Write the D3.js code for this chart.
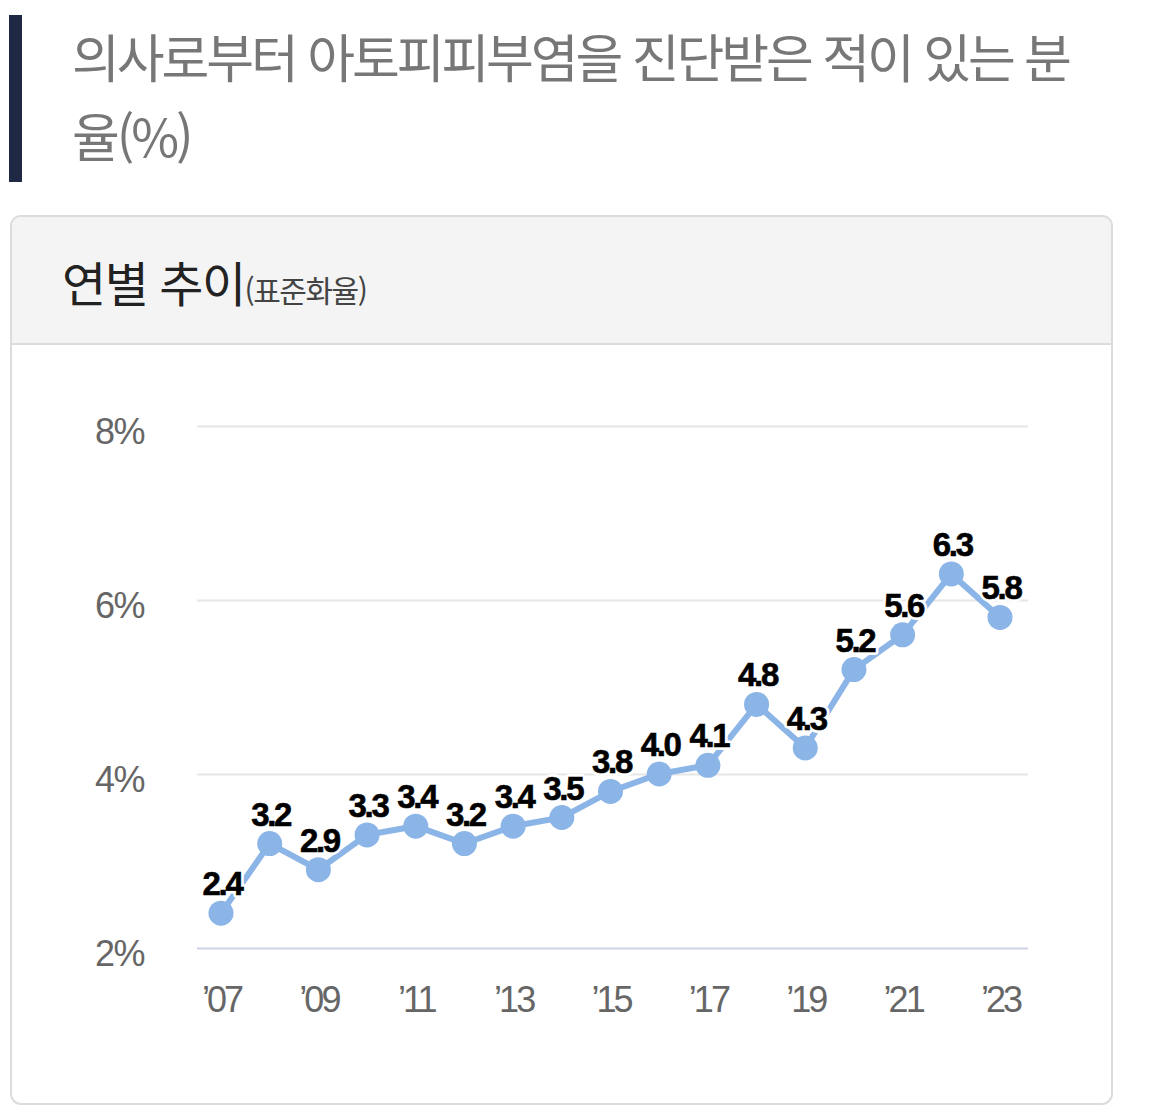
<!DOCTYPE html>
<html lang="ko">
<head>
<meta charset="utf-8">
<script src="https://cdn.jsdelivr.net/npm/d3@7"></script>
<style>
  body { margin: 0; background: #fff; }
  svg { display: block; }
  .title { font-family: "Noto Sans CJK KR", sans-serif; fill: #777; font-size: 52px; letter-spacing: -3.1px; }
  .sub { font-family: "Noto Sans CJK KR", sans-serif; fill: #222; }
  .tick text { font-family: "Liberation Sans", Arial, sans-serif; fill: #666; font-size: 36px; letter-spacing: -3px; }
  .y-axis .tick text { letter-spacing: -1.5px; }
  .label { font-family: "Liberation Sans", Arial, sans-serif; font-weight: bold; font-size: 33px; letter-spacing: -2.3px; }
  .label.halo { fill: #fff; stroke: #fff; stroke-width: 6px; stroke-linejoin: round; }
  .label.ink { fill: #000; stroke: #000; stroke-width: 0.6px; }
</style>
</head>
<body>
<div id="chart"></div>
<script>
// 연도 (2007 ~ 2023)
const years = ['07', '08', '09', '10', '11', '12', '13', '14', '15', '16', '17', '18', '19', '20', '21', '22', '23'];
// 아토피피부염 진단 경험률 (표준화율, %)
const rates = [2.4, 3.2, 2.9, 3.3, 3.4, 3.2, 3.4, 3.5, 3.8, 4.0, 4.1, 4.8, 4.3, 5.2, 5.6, 6.3, 5.8];
const yTicks = [2, 4, 6, 8];
const xTicks = ['07', '09', '11', '13', '15', '17', '19', '21', '23'];

const width = 1165;
const height = 1118;

const svg = d3.select('#chart').append('svg')
  .attr('width', width)
  .attr('height', height);

// title block
svg.append('rect')
  .attr('x', 9).attr('y', 15).attr('width', 13).attr('height', 167)
  .attr('fill', '#1f2943');

svg.append('text').attr('class', 'title').attr('x', 72).attr('y', 78)
  .text('의사로부터 아토피피부염을 진단받은 적이 있는 분');
svg.append('text').attr('class', 'title').attr('x', 72).attr('y', 157)
  .text('율(%)');

// card
svg.append('rect')
  .attr('x', 11).attr('y', 216).attr('width', 1101).attr('height', 888)
  .attr('rx', 10)
  .attr('fill', '#fff')
  .attr('stroke', '#dcdcdc')
  .attr('stroke-width', 2);

// header background (rounded top only)
svg.append('path')
  .attr('d', 'M12,343 V227 Q12,217 22,217 H1101 Q1111,217 1111,227 V343 Z')
  .attr('fill', '#f4f4f4');
svg.append('line')
  .attr('x1', 12).attr('x2', 1111).attr('y1', 344).attr('y2', 344)
  .attr('stroke', '#dcdcdc').attr('stroke-width', 2);

const head = svg.append('text').attr('class', 'sub').attr('x', 62).attr('y', 302);
head.append('tspan').attr('font-size', 48).attr('letter-spacing', -1.5).text('연별 추이');
head.append('tspan').attr('font-size', 30).attr('letter-spacing', -1.5).attr('fill', '#444').text('(표준화율)');

// scales
const x = d3.scalePoint().domain(years).range([221, 1000]);
const y = d3.scaleLinear().domain([2, 8]).range([948, 426]);

const gridLeft = 197;
const gridRight = 1028;

// y axis + gridlines
const yAxis = svg.append('g')
  .attr('class', 'y-axis')
  .attr('transform', `translate(${gridRight}, 0)`)
  .call(d3.axisLeft(y).tickValues(yTicks).tickSize(gridRight - gridLeft).tickPadding(gridLeft - 144)
    .tickFormat((d) => d + '%'));
yAxis.select('.domain').remove();
yAxis.selectAll('.tick line')
  .attr('stroke', (d) => d === 2 ? '#cdd4e4' : '#e6e6e6')
  .attr('stroke-width', 2);
yAxis.selectAll('.tick text').attr('dy', 17);

// x axis labels
const xAxis = svg.append('g')
  .attr('transform', `translate(0, 948)`)
  .call(d3.axisBottom(x).tickValues(xTicks).tickSize(0).tickFormat((d) => '\u2019' + d));
xAxis.select('.domain').remove();
xAxis.selectAll('.tick text').attr('y', 64).attr('dy', 0);

// line
const line = d3.line()
  .x((d, i) => x(years[i]))
  .y((d) => y(d));

svg.append('path')
  .datum(rates)
  .attr('fill', 'none')
  .attr('stroke', '#8bb4e7')
  .attr('stroke-width', 6)
  .attr('d', line);

svg.append('g')
  .selectAll('circle')
  .data(rates)
  .join('circle')
  .attr('cx', (d, i) => x(years[i]))
  .attr('cy', (d) => y(d))
  .attr('r', 12.5)
  .attr('fill', '#8bb4e7');

// value labels: white halo underneath, then the text
for (const cls of ['halo', 'ink']) {
  svg.append('g')
    .selectAll('text')
    .data(rates)
    .join('text')
    .attr('class', 'label ' + cls)
    .attr('x', (d, i) => x(years[i]) + 1)
    .attr('y', (d) => y(d) - 18)
    .attr('text-anchor', 'middle')
    .text((d) => d.toFixed(1));
}
</script>
</body>
</html>
